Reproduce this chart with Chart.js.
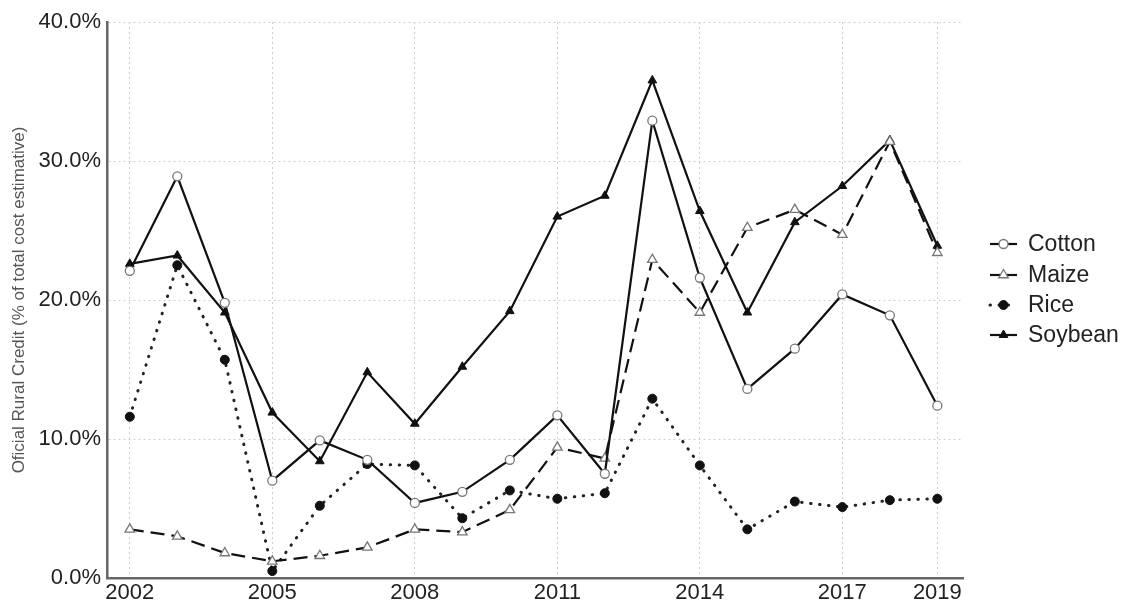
<!DOCTYPE html>
<html>
<head>
<meta charset="utf-8">
<script src="https://cdn.jsdelivr.net/npm/chart.js@4"></script>
<style>
  html, body { margin: 0; padding: 0; background: #fff; }
  #wrap { width: 1125px; height: 606px; position: relative; }
</style>
</head>
<body>
<div id="wrap"><canvas id="c" width="1125" height="606"></canvas></div>
<script>
// Share of official rural credit in the total cost estimate, by crop (%)
const years   = [2002, 2003, 2004, 2005, 2006, 2007, 2008, 2009, 2010, 2011, 2012, 2013, 2014, 2015, 2016, 2017, 2018, 2019];
const cotton  = [22.1, 28.9, 19.8, 7.0, 9.9, 8.5, 5.4, 6.2, 8.5, 11.7, 7.5, 32.9, 21.6, 13.6, 16.5, 20.4, 18.9, 12.4];
const maize   = [3.5, 3.0, 1.8, 1.2, 1.6, 2.2, 3.5, 3.3, 4.9, 9.4, 8.6, 22.9, 19.1, 25.2, 26.5, 24.7, 31.4, 23.4];
const rice    = [11.6, 22.5, 15.7, 0.5, 5.2, 8.2, 8.1, 4.3, 6.3, 5.7, 6.1, 12.9, 8.1, 3.5, 5.5, 5.1, 5.6, 5.7];
const soybean = [22.6, 23.2, 19.1, 11.9, 8.4, 14.8, 11.1, 15.2, 19.2, 26.0, 27.5, 35.8, 26.4, 19.1, 25.6, 28.2, 31.5, 23.9];
const xTickYears = [2002, 2005, 2008, 2011, 2014, 2017, 2019];
const yTickValues = [0, 10, 20, 30, 40];
const seriesNames = ['Cotton', 'Maize', 'Rice', 'Soybean'];

const FONT = '"Liberation Sans", Arial, Helvetica, sans-serif';
const pts = arr => years.map((yr, i) => ({ x: yr, y: arr[i] }));

const datasets = [
  { label: seriesNames[0], data: pts(cotton), borderColor: '#111', borderWidth: 2.2, borderDash: [],
    pointStyle: 'circle', pointRadius: 4.5, pointBackgroundColor: '#fff', pointBorderColor: '#777', pointBorderWidth: 1.3 },
  { label: seriesNames[1], data: pts(maize), borderColor: '#111', borderWidth: 2.2, borderDash: [14, 7],
    pointStyle: 'triangle', pointRadius: 5.5, pointBackgroundColor: '#fff', pointBorderColor: '#777', pointBorderWidth: 1.3 },
  { label: seriesNames[2], data: pts(rice), borderColor: '#222', borderWidth: 3, borderDash: [0.5, 8.5], borderCapStyle: 'round',
    pointStyle: 'circle', pointRadius: 4.5, pointBackgroundColor: '#111', pointBorderColor: '#111', pointBorderWidth: 1 },
  { label: seriesNames[3], data: pts(soybean), borderColor: '#111', borderWidth: 2.2, borderDash: [],
    pointStyle: 'triangle', pointRadius: 5, pointBackgroundColor: '#111', pointBorderColor: '#111', pointBorderWidth: 1 }
];
datasets.forEach(d => { d.tension = 0; d.fill = false; });

// Legend on the right: line sample with marker, then the series name
const sideLegend = {
  id: 'sideLegend',
  afterDraw(chart) {
    const ctx = chart.ctx;
    const x0 = 990, x1 = 1017, tx = 1028;
    const rows = [244, 275, 305, 335];
    chart.data.datasets.forEach((ds, i) => {
      const y = rows[i];
      ctx.save();
      ctx.strokeStyle = ds.borderColor;
      ctx.lineWidth = ds.borderWidth;
      ctx.lineCap = ds.borderCapStyle || 'butt';
      ctx.setLineDash(i === 1 ? [] : ds.borderDash);
      ctx.beginPath();
      ctx.moveTo(x0, y); ctx.lineTo(x1, y);
      ctx.stroke();
      ctx.setLineDash([]);
      ctx.fillStyle = ds.pointBackgroundColor;
      ctx.strokeStyle = ds.pointBorderColor;
      ctx.lineWidth = ds.pointBorderWidth;
      Chart.helpers.drawPoint(ctx, { pointStyle: ds.pointStyle, radius: ds.pointRadius, rotation: 0, borderWidth: ds.pointBorderWidth }, (x0 + x1) / 2, y);
      ctx.fillStyle = '#222';
      ctx.font = '23px ' + FONT;
      ctx.textBaseline = 'middle';
      ctx.textAlign = 'left';
      ctx.fillText(ds.label, tx, y + 1);
      ctx.restore();
    });
  }
};

const whiteBg = {
  id: 'whiteBg',
  beforeDraw(chart) {
    const ctx = chart.ctx;
    ctx.save();
    ctx.fillStyle = '#fff';
    ctx.fillRect(0, 0, chart.width, chart.height);
    ctx.restore();
  }
};

new Chart(document.getElementById('c'), {
  type: 'line',
  data: { datasets },
  options: {
    responsive: false,
    animation: false,
    layout: { padding: { left: 0, top: 22, right: 162, bottom: 0 } },
    plugins: { legend: { display: false }, tooltip: { enabled: false } },
    scales: {
      x: {
        type: 'linear',
        min: 2001.52,
        max: 2019.54,
        afterBuildTicks: s => { s.ticks = xTickYears.map(v => ({ value: v })); },
        afterFit: s => { s.height = 28; },
        ticks: { color: '#222', font: { family: FONT, size: 22 }, padding: 2, maxRotation: 0, autoSkip: false,
                 callback: v => String(v) },
        grid: { color: '#cfcfcf', lineWidth: 1, drawTicks: false },
        border: { color: '#666', width: 2.5, dash: [2, 3] }
      },
      y: {
        type: 'linear',
        min: 0,
        max: 40,
        afterBuildTicks: s => { s.ticks = yTickValues.map(v => ({ value: v })); },
        afterFit: s => { s.width = 107; },
        ticks: { color: '#222', font: { family: FONT, size: 22 }, padding: 6,
                 callback: v => v.toFixed(1) + '%' },
        grid: { color: '#cfcfcf', lineWidth: 1, drawTicks: false },
        border: { color: '#666', width: 2.5, dash: [2, 3] },
        title: { display: true, text: 'Oficial Rural Credit (% of total cost estimative)',
                 color: '#555', font: { family: FONT, size: 17 }, padding: { top: 9, bottom: 0 } }
      }
    }
  },
  plugins: [whiteBg, sideLegend]
});
</script>
</body>
</html>
